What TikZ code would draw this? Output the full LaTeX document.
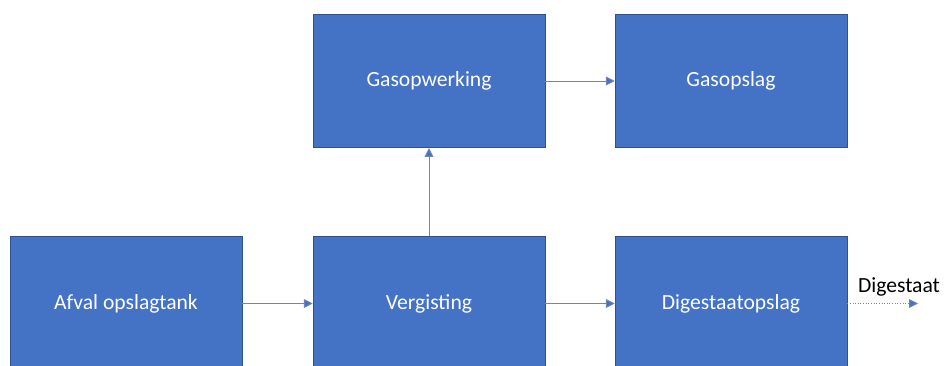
\documentclass[tikz,border=0pt]{standalone}
\usepackage{fontspec}
\setmainfont{Carlito}
\usetikzlibrary{arrows.meta}

\definecolor{boxFill}{HTML}{4472C4}
\definecolor{boxLine}{HTML}{2F528F}
\definecolor{arrowLine}{HTML}{6F86B4}

\tikzset{
  stage/.style={rectangle, fill=boxFill, draw=boxLine, line width=0.3pt,
    minimum width=4.64cm, minimum height=2.67cm, text=white, font=\fontsize{12.3}{14}\selectfont},
  flow/.style={draw=arrowLine, line width=0.5pt, -{Triangle[length=5pt,width=5pt,fill=boxFill]}}
}

\begin{document}
\begin{tikzpicture}
\clip (0,0) rectangle (18.9,7.3);
\useasboundingbox (0,0) rectangle (18.9,7.3);

% Bottom row
\node[stage] (afval) at (2.52, 1.23) {Afval opslagtank};
\node[stage] (vergisting) at (8.58, 1.23) {Vergisting};
\node[stage] (digopslag) at (14.62, 1.23) {Digestaatopslag};

% Top row
\node[stage] (gasopwerking) at (8.58, 5.68) {Gasopwerking};
\node[stage] (gasopslag) at (14.62, 5.68) {Gasopslag};

% Output
\coordinate (digout) at (18.36, 1.23);
\node[font=\fontsize{12.3}{14}\selectfont] (digestaat) at (17.98, 1.56) {Digestaat};

% Arrows
\draw[flow] (afval) -- (vergisting);
\draw[flow] (vergisting) -- (digopslag);
\draw[flow] (vergisting) -- (gasopwerking);
\draw[flow] (gasopwerking) -- (gasopslag);
\draw[flow, densely dotted] (digopslag.east) -- (digout);

\end{tikzpicture}
\end{document}
